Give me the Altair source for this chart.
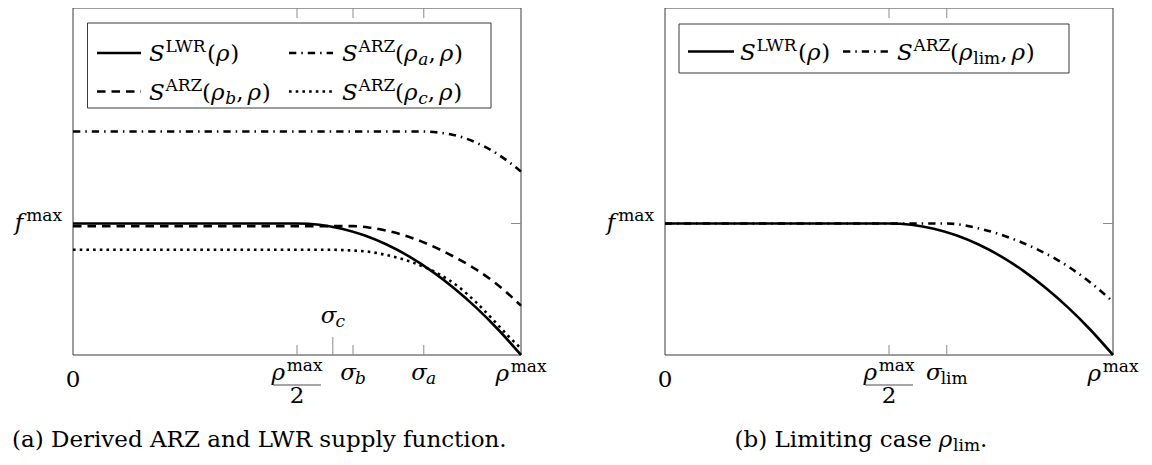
import altair as alt
import pandas as pd

# ---------------- values ----------------
# density in units of rho^max, supply in units of f^max
LWR_RHO = [0.0, 0.50, 0.55, 0.60, 0.65, 0.70, 0.75, 0.80, 0.85, 0.90, 0.95, 1.00]
LWR_S = [1.0, 1.00, 0.99, 0.96, 0.91, 0.84, 0.75, 0.64, 0.51, 0.36, 0.19, 0.00]

ARZ_A_RHO = [0.0, 0.78, 0.82, 0.86, 0.90, 0.94, 0.97, 1.00]
ARZ_A_S = [1.70, 1.70, 1.69, 1.665, 1.615, 1.545, 1.475, 1.395]

ARZ_B_RHO = [0.0, 0.625, 0.66, 0.70, 0.74, 0.78, 0.82, 0.86, 0.90, 0.94, 0.97, 1.00]
ARZ_B_S = [0.98, 0.98, 0.97, 0.945, 0.91, 0.86, 0.80, 0.73, 0.65, 0.555, 0.47, 0.375]

ARZ_C_RHO = [0.0, 0.58, 0.62, 0.66, 0.70, 0.74, 0.78, 0.82, 0.86, 0.90, 0.94, 0.97, 1.00]
ARZ_C_S = [0.80, 0.80, 0.795, 0.785, 0.76, 0.725, 0.675, 0.61, 0.52, 0.40, 0.26, 0.15, 0.05]

LIM_RHO = [0.0, 0.63, 0.67, 0.71, 0.75, 0.79, 0.83, 0.87, 0.91, 0.95, 1.00]
LIM_S = [1.0, 1.0, 0.985, 0.955, 0.915, 0.865, 0.805, 0.735, 0.65, 0.55, 0.405]

HALF = 0.5
SIGMA_C, SIGMA_B, SIGMA_A = 0.58, 0.625, 0.783
SIGMA_LIM = 0.629
F_MAX = 1.0

LEFT_TICKS = [HALF, SIGMA_B, SIGMA_A]
LEFT_LONG_TICKS = [SIGMA_C]
RIGHT_TICKS = [HALF, SIGMA_LIM]

CAPTION_A = "(a) Derived ARZ and LWR supply function."
CAPTION_B = "(b) Limiting case "

# ---------------- layout / style ----------------
W, H = 1136, 457
PH = 347
UNIT = 131.5
YMAX = PH / UNIT
XL = [65, 513]
XR = [657, 1105]
SXL = alt.Scale(domain=[0, 1], range=XL, nice=False, zero=False)
SXR = alt.Scale(domain=[0, 1], range=XR, nice=False, zero=False)
SY = alt.Scale(domain=[0, YMAX], range=[PH, 0], nice=False, zero=False)

FONT = "DejaVu Serif"
MAIN, SCRIPT = 23, 17
SUP, SUB = -9.0, 4
STY = {
    "mi": (MAIN, "italic", 0),
    "rm": (MAIN, "normal", 0),
    "sup": (SCRIPT, "normal", SUP),
    "subi": (SCRIPT, "italic", SUB),
    "subr": (SCRIPT, "normal", SUB),
}
# approximate DejaVu Serif advance widths (1/1000 em)
REG = {' ': 318, '(': 390, ')': 390, ',': 318, '.': 318, '0': 636, '2': 636,
       'a': 596, 'b': 640, 'c': 560, 'd': 640, 'e': 592, 'f': 370, 'g': 640,
       'i': 320, 'l': 320, 'm': 948, 'n': 644, 'o': 602, 'p': 640, 'r': 478,
       's': 513, 't': 402, 'u': 644, 'v': 564, 'x': 564, 'y': 564,
       'A': 722, 'D': 765, 'L': 653, 'R': 707, 'W': 1027, 'Z': 666}
ITA = {'S': 648, 'f': 370, 'a': 600, 'b': 640, 'c': 560, 'ρ': 620, 'σ': 640}

DUMMY = pd.DataFrame({"d": [0]})
SOLID_W = 2.6
DASHED = [8.5, 6]
DOTTED = [2.6, 4.1]
DASHDOT = [7.3, 5, 1.5, 5]


def text_width(t, sty):
    size, fstyle, _ = STY[sty]
    tbl = ITA if fstyle == "italic" else REG
    return sum(tbl.get(ch, 600) for ch in t) * size / 1000.0


def layout(pieces):
    items, off = [], 0.0
    for p in pieces:
        if p[0] == "gap":
            off += p[1]
            continue
        t, sty = p
        items.append((t, sty, off))
        off += text_width(t, sty)
    return items, off


def px_text(pieces, x0, base_y, align="left"):
    items, total = layout(pieces)
    start = x0 + {"left": 0, "center": -total / 2, "right": -total}[align]
    out = []
    for t, sty, off in items:
        size, fstyle, dy = STY[sty]
        out.append(alt.Chart(DUMMY).mark_text(
            align="left", baseline="alphabetic", font=FONT, fontSize=size,
            fontStyle=fstyle, color="black").encode(
            x=alt.value(start + off), y=alt.value(base_y + dy), text=alt.value(t)))
    return out


def data_text(pieces, value, scale, base_y, align="center"):
    items, total = layout(pieces)
    start = {"left": 0, "center": -total / 2, "right": -total}[align]
    df = pd.DataFrame({"v": [value]})
    out = []
    for t, sty, off in items:
        size, fstyle, dy = STY[sty]
        out.append(alt.Chart(df).mark_text(
            align="left", baseline="alphabetic", font=FONT, fontSize=size,
            fontStyle=fstyle, color="black", dx=start + off).encode(
            x=alt.X("v:Q", scale=scale, axis=None), y=alt.value(base_y + dy),
            text=alt.value(t)))
    return out


def curve(rho, s, scale, dash=None):
    kw = dict(color="black", strokeWidth=SOLID_W, interpolate="monotone")
    if dash:
        kw["strokeDash"] = dash
    df = pd.DataFrame({"rho": rho, "S": s})
    return alt.Chart(df).mark_line(**kw).encode(
        x=alt.X("rho:Q", scale=scale, axis=None),
        y=alt.Y("S:Q", scale=SY, axis=None))


def frame(scale):
    df = pd.DataFrame({"x0": [0.0], "x1": [1.0], "y0": [0.0], "y1": [YMAX]})
    return alt.Chart(df).mark_rect(fillOpacity=0, stroke="#3a3a3a", strokeWidth=1).encode(
        x=alt.X("x0:Q", scale=scale, axis=None), x2="x1:Q",
        y=alt.Y("y0:Q", scale=SY, axis=None), y2="y1:Q")


def xticks(values, scale, y_a, y_b):
    df = pd.DataFrame({"v": values})
    return alt.Chart(df).mark_rule(color="#8a8a8a", strokeWidth=1).encode(
        x=alt.X("v:Q", scale=scale, axis=None), y=alt.value(y_a), y2=alt.value(y_b))


def yticks(xr):
    df = pd.DataFrame({"v": [F_MAX]})
    rules = []
    for a, b in [(xr[0], xr[0] + 10), (xr[1] - 10, xr[1])]:
        rules.append(alt.Chart(df).mark_rule(color="#8a8a8a", strokeWidth=1).encode(
            x=alt.value(a), x2=alt.value(b), y=alt.Y("v:Q", scale=SY, axis=None)))
    return rules


def sample(x0, x1, y, dash=None):
    kw = dict(color="black", strokeWidth=SOLID_W)
    if dash:
        kw["strokeDash"] = dash
    return alt.Chart(DUMMY).mark_rule(**kw).encode(
        x=alt.value(x0), x2=alt.value(x1), y=alt.value(y))


def box(x0, x1, y0, y1):
    return alt.Chart(DUMMY).mark_rect(fill="white", stroke="#3a3a3a", strokeWidth=1).encode(
        x=alt.value(x0), x2=alt.value(x1), y=alt.value(y0), y2=alt.value(y1))


def S_sup(sup, args):
    return [("S", "mi"), ("gap", 1.5), (sup, "sup"), ("gap", 1), ("(", "rm")] + args + [(")", "rm")]


RHO = ("ρ", "mi")
COMMA = [(",", "rm"), ("gap", 4)]
LBL_LWR = S_sup("LWR", [RHO])
LBL_A = S_sup("ARZ", [RHO, ("a", "subi")] + COMMA + [RHO])
LBL_B = S_sup("ARZ", [RHO, ("b", "subi")] + COMMA + [RHO])
LBL_C = S_sup("ARZ", [RHO, ("c", "subi")] + COMMA + [RHO])
LBL_LIM = S_sup("ARZ", [RHO, ("lim", "subr")] + COMMA + [RHO])
FMAX = [("f", "mi"), ("gap", 3), ("max", "sup")]
RHOMAX = [("ρ", "mi"), ("gap", 1), ("max", "sup")]

layers = []
# frames and ticks
for sc, xr, ticks in [(SXL, XL, LEFT_TICKS), (SXR, XR, RIGHT_TICKS)]:
    layers.append(frame(sc))
    layers.append(xticks(ticks, sc, PH, PH - 10))
    layers.append(xticks(ticks, sc, 0, 10))
    layers += yticks(xr)
layers.append(xticks(LEFT_LONG_TICKS, SXL, PH, PH - 18))

# curves
layers.append(curve(ARZ_A_RHO, ARZ_A_S, SXL, DASHDOT))
layers.append(curve(ARZ_B_RHO, ARZ_B_S, SXL, DASHED))
layers.append(curve(ARZ_C_RHO, ARZ_C_S, SXL, DOTTED))
layers.append(curve(LWR_RHO, LWR_S, SXL))
layers.append(curve(LIM_RHO, LIM_S, SXR, DASHDOT))
layers.append(curve(LWR_RHO, LWR_S, SXR))

# tick labels
for sc, xr in [(SXL, XL), (SXR, XR)]:
    layers += px_text(FMAX, xr[0] - 11, 222, "right")
    layers += data_text([("0", "rm")], 0.0, sc, 378.7)
    layers += data_text(RHOMAX, HALF, sc, 372)
    layers.append(alt.Chart(pd.DataFrame({"v": [HALF]})).mark_tick(
        orient="horizontal", size=48, thickness=1.2, color="black").encode(
        x=alt.X("v:Q", scale=sc, axis=None), y=alt.value(377)))
    layers += data_text([("2", "rm")], HALF, sc, 395)
    layers += data_text(RHOMAX, 1.0, sc, 373)

layers += data_text([("σ", "mi"), ("c", "subi")], SIGMA_C, SXL, 315)
layers += data_text([("σ", "mi"), ("b", "subi")], SIGMA_B, SXL, 372)
layers += data_text([("σ", "mi"), ("a", "subi")], SIGMA_A, SXL, 372)
layers += data_text([("σ", "mi"), ("lim", "subr")], SIGMA_LIM, SXR, 372)

# legend, left panel
layers.append(box(79.5, 483, 15, 100))
layers.append(sample(89, 133, 45))
layers.append(sample(281, 325, 45, DASHDOT))
layers.append(sample(89, 133, 83.5, DASHED))
layers.append(sample(281, 325, 83.5, DOTTED))
layers += px_text(LBL_LWR, 141, 53)
layers += px_text(LBL_A, 334, 53)
layers += px_text(LBL_B, 141, 91.5)
layers += px_text(LBL_C, 334, 91.5)

# legend, right panel
layers.append(box(671, 1061, 16, 65))
layers.append(sample(680, 726, 43.5))
layers.append(sample(835, 881, 43.5, DASHDOT))
layers += px_text(LBL_LWR, 732, 51.5)
layers += px_text(LBL_LIM, 889, 51.5)

# captions
layers += px_text([(CAPTION_A, "rm")], 4, 439)
layers += px_text([(CAPTION_B, "rm"), ("ρ", "mi"), ("lim", "subr"), (".", "rm")], 853, 439, "center")

chart = alt.layer(*layers).resolve_scale(x="independent").properties(
    width=W, height=H, autosize=alt.AutoSizeParams(type="none"), padding=0
).configure_view(strokeWidth=0)

chart.save("out.html", embed_options={"renderer": "svg", "actions": False})
